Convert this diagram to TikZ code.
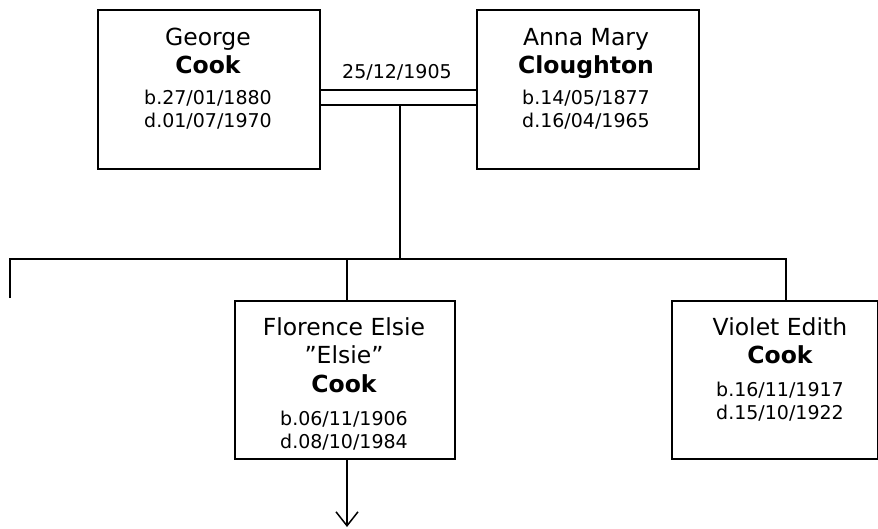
\documentclass[tikz,border=0pt]{standalone}
\usepackage{fontspec}
\setmainfont{DejaVu Sans}
\usetikzlibrary{arrows.meta}
\begin{document}
\begin{tikzpicture}[x=1pt,y=-1pt,
  person/.style={draw,line width=1.9pt,rectangle,inner sep=0pt,anchor=north west},
  given/.style={anchor=base,inner sep=0pt,font=\fontsize{23.5}{28}\selectfont},
  surname/.style={anchor=base,inner sep=0pt,font=\fontsize{23.5}{28}\selectfont\bfseries},
  dates/.style={anchor=base,inner sep=0pt,font=\fontsize{19}{23}\selectfont},
  link/.style={line width=1.9pt}]
\useasboundingbox (0,0) rectangle (878,528);

% parents
\node[person,minimum width=222pt,minimum height=159pt] (george) at (97,9) {};
\node[given]   (georgeA) at (208,45) {George};
\node[surname] (georgeB) at (208,73) {Cook};
\node[dates]   (georgeC) at (208,104) {b.27/01/1880};
\node[dates]   (georgeD) at (208,127) {d.01/07/1970};

\node[person,minimum width=222pt,minimum height=159pt] (anna) at (476,9) {};
\node[given]   (annaA) at (586,45) {Anna Mary};
\node[surname] (annaB) at (586,73) {Cloughton};
\node[dates]   (annaC) at (586,104) {b.14/05/1877};
\node[dates]   (annaD) at (586,127) {d.16/04/1965};

% marriage
\coordinate (mTop) at (400,90);
\coordinate (mBot) at (400,105);
\draw[link] (george.east |- mTop) -- (anna.west |- mTop);
\draw[link] (george.east |- mBot) -- (anna.west |- mBot);
\node[dates] (wed) at (397,78) {25/12/1905};

% children
\node[person,minimum width=220pt,minimum height=158pt] (florence) at (234,300) {};
\node[given]   (florenceA) at (344,335) {Florence Elsie};
\node[given]   (florenceB) at (344,363) {”Elsie”};
\node[surname] (florenceC) at (344,392) {Cook};
\node[dates]   (florenceD) at (344,425) {b.06/11/1906};
\node[dates]   (florenceE) at (344,448) {d.08/10/1984};

\node[person,minimum width=206pt,minimum height=158pt] (violet) at (671,300) {};
\node[given]   (violetA) at (780,335) {Violet Edith};
\node[surname] (violetB) at (780,363) {Cook};
\node[dates]   (violetC) at (780,396) {b.16/11/1917};
\node[dates]   (violetD) at (780,419) {d.15/10/1922};

% sibling bar
\coordinate (barL) at (10,259);
\coordinate (barR) at (786,259);
\coordinate (stubL) at (10,298);
\coordinate (mid) at (400,259);
\coordinate (dropF) at (347,259);
\coordinate (descent) at (347,527);
\draw[link] (mBot) -- (mid);
\draw[link] (stubL) -- (barL) -- (barR) -- (violet.north -| barR);
\draw[link] (dropF) -- (florence.north -| dropF);
\draw[link,-{Straight Barb[length=14pt,width=22pt,line width=1.5pt]}] (florence.south -| descent) -- (descent);
\end{tikzpicture}
\end{document}
